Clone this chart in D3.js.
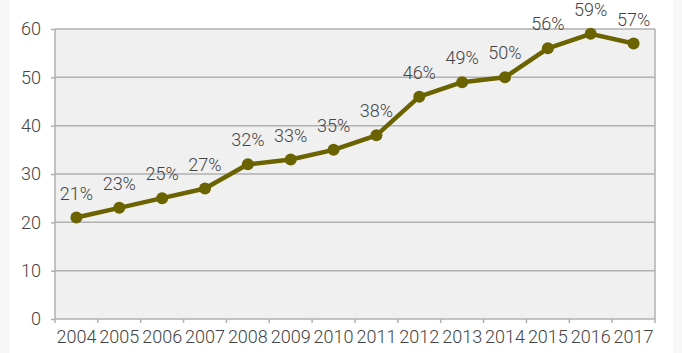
<!DOCTYPE html>
<meta charset="UTF-8">
<head>
<style>
  body { margin: 0; background: #f7f7f7; }
  svg { display: block; }
</style>
</head>
<body>
<svg width="682" height="353" font-family="Roboto, sans-serif" font-size="18" font-weight="300"></svg>
<script src="https://d3js.org/d3.v7.min.js"></script>
<script>

// Chart data.
var years = ["2004", "2005", "2006", "2007", "2008", "2009", "2010",
             "2011", "2012", "2013", "2014", "2015", "2016", "2017"];
var values = [21, 23, 25, 27, 32, 33, 35, 38, 46, 49, 50, 56, 59, 57];
var yTicks = [0, 10, 20, 30, 40, 50, 60];

var svg = d3.select("svg"),
    width = +svg.attr("width"),
    height = +svg.attr("height");

var margin = {top: 29, right: 27, bottom: 34, left: 55};
var textColor = "#444444";

// White page panel.
svg.append("rect")
    .attr("x", 10).attr("y", 0)
    .attr("width", 663).attr("height", height)
    .attr("fill", "#ffffff");

var x = d3.scaleBand()
    .domain(years)
    .range([margin.left, width - margin.right]);

var y = d3.scaleLinear()
    .domain([0, 60])
    .range([height - margin.bottom, margin.top]);

// Plot background.
svg.append("rect")
    .attr("x", x.range()[0]).attr("y", y(60))
    .attr("width", x.range()[1] - x.range()[0])
    .attr("height", y(0) - y(60))
    .attr("fill", "#f0f0f0");

// Grid lines.
svg.append("g")
    .selectAll("line")
    .data(yTicks)
    .enter().append("line")
    .attr("x1", x.range()[0]).attr("x2", x.range()[1])
    .attr("y1", function(d) { return y(d); })
    .attr("y2", function(d) { return y(d); })
    .attr("stroke", "#b0b0b0")
    .attr("stroke-width", 1.5);

// Left and right borders.
svg.append("g")
    .selectAll("line")
    .data(x.range())
    .enter().append("line")
    .attr("x1", function(d) { return d; })
    .attr("x2", function(d) { return d; })
    .attr("y1", y(60)).attr("y2", y(0))
    .attr("stroke", "#b0b0b0")
    .attr("stroke-width", 1.5);

// Y axis.
var yAxis = svg.append("g")
    .attr("transform", "translate(" + margin.left + ",0)")
    .call(d3.axisLeft(y).tickValues(yTicks).tickSize(4).tickPadding(10));
yAxis.select(".domain").remove();
yAxis.selectAll("line").attr("stroke", "#b0b0b0").attr("stroke-width", 1.5);
yAxis.selectAll("text").attr("fill", textColor).attr("font-size", 18)
    .attr("font-family", "Roboto, sans-serif").attr("font-weight", 300);

// X axis with ticks on category boundaries.
var xAxis = svg.append("g")
    .attr("transform", "translate(0," + y(0) + ")")
    .call(d3.axisBottom(x).tickSize(0).tickPadding(8));
xAxis.select(".domain").remove();
xAxis.selectAll("text").attr("fill", textColor).attr("font-size", 18)
    .attr("font-family", "Roboto, sans-serif").attr("font-weight", 300)
    .attr("dy", "0.9em");

svg.append("g")
    .selectAll("line")
    .data(years.concat(["end"]))
    .enter().append("line")
    .attr("x1", function(d, i) { return x.range()[0] + i * x.step(); })
    .attr("x2", function(d, i) { return x.range()[0] + i * x.step(); })
    .attr("y1", y(0)).attr("y2", y(0) + 4)
    .attr("stroke", "#b0b0b0")
    .attr("stroke-width", 1.5);

var cx = function(d, i) { return x(years[i]) + x.bandwidth() / 2; };

// Line.
var line = d3.line()
    .x(function(d, i) { return cx(d, i); })
    .y(function(d) { return y(d); });

svg.append("path")
    .datum(values)
    .attr("d", line)
    .attr("fill", "none")
    .attr("stroke", "#6b6300")
    .attr("stroke-width", 4.5)
    .attr("stroke-linejoin", "round");

// Markers.
svg.append("g")
    .selectAll("circle")
    .data(values)
    .enter().append("circle")
    .attr("cx", cx)
    .attr("cy", function(d) { return y(d); })
    .attr("r", 6)
    .attr("fill", "#6b6300");

// Data labels.
svg.append("g")
    .selectAll("text")
    .data(values)
    .enter().append("text")
    .attr("x", cx)
    .attr("y", function(d) { return y(d) - 18; })
    .attr("text-anchor", "middle")
    .attr("font-size", 18)
    .attr("fill", textColor)
    .text(function(d) { return d + "%"; });

</script>
</body>
